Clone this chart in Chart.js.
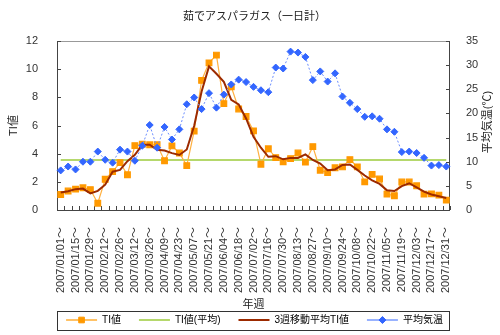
<!DOCTYPE html>
<html>
<head>
<meta charset="utf-8">
<script src="https://cdn.jsdelivr.net/npm/chart.js@4"></script>
<style>
html, body { margin: 0; background: #fff; }
</style>
</head>
<body>
<canvas id="c" width="500" height="335"></canvas>
<script>
// 週ラベル
const weeks = [
  '2007/01/01～','2007/01/08～','2007/01/15～','2007/01/22～','2007/01/29～','2007/02/05～','2007/02/12～',
  '2007/02/19～','2007/02/26～','2007/03/05～','2007/03/12～','2007/03/19～','2007/03/26～','2007/04/02～',
  '2007/04/09～','2007/04/16～','2007/04/23～','2007/04/30～','2007/05/07～','2007/05/14～','2007/05/21～',
  '2007/05/28～','2007/06/04～','2007/06/11～','2007/06/18～','2007/06/25～','2007/07/02～','2007/07/09～',
  '2007/07/16～','2007/07/23～','2007/07/30～','2007/08/06～','2007/08/13～','2007/08/20～','2007/08/27～',
  '2007/09/03～','2007/09/10～','2007/09/17～','2007/09/24～','2007/10/01～','2007/10/08～','2007/10/15～',
  '2007/10/22～','2007/10/29～','2007/11/05～','2007/11/12～','2007/11/19～','2007/11/26～','2007/12/03～',
  '2007/12/10～','2007/12/17～','2007/12/24～','2007/12/31～'
];

// TI値
const tiValues = [
  1.1, 1.35, 1.48, 1.58, 1.45, 0.48, 2.18, 2.72, 3.36, 2.5, 4.57, 4.67, 4.63, 4.63, 3.5, 4.55, 4.05, 3.15,
  5.6, 9.2, 10.45, 11.0, 7.55, 8.75, 7.17, 6.64, 5.62, 3.25, 4.35, 3.72, 3.42, 3.65, 4.05, 3.4, 4.5, 2.82,
  2.65, 3.0, 3.06, 3.58, 3.06, 2.0, 2.53, 2.2, 1.13, 1.01, 1.99, 1.99, 1.72, 1.13, 1.15, 1.06, 0.7
];

// TI値(平均)
const tiAverage = 3.55;

// 3週移動平均TI値
const tiMoving3 = [
  1.24, 1.33, 1.48, 1.52, 1.18, 1.36, 1.8, 2.72, 2.85, 3.47, 3.92, 4.63, 4.64, 4.27, 4.22, 4.04, 3.91, 4.3,
  5.98, 8.42, 10.2, 9.67, 9.1, 7.82, 7.5, 6.5, 5.2, 4.42, 3.78, 3.82, 3.6, 3.7, 3.7, 3.95, 3.55, 3.3,
  2.83, 2.88, 3.2, 3.23, 2.85, 2.45, 2.1, 1.85, 1.4, 1.35, 1.7, 1.9, 1.6, 1.3, 1.1, 0.97, 0.85
];

// 平均気温
const avgTemp = [
  8.2, 9.0, 8.4, 10.0, 10.0, 12.1, 10.4, 9.8, 12.5, 12.1, 10.2, 13.3, 17.6, 12.9, 17.2, 14.6, 16.7, 21.9,
  23.3, 20.9, 24.2, 21.2, 23.9, 26.0, 27.0, 26.5, 25.5, 24.8, 24.4, 29.5, 29.3, 32.8, 32.6, 31.7, 26.9, 28.7,
  26.6, 28.3, 23.5, 22.2, 20.9, 19.3, 19.4, 18.9, 16.7, 16.2, 12.0, 12.1, 11.8, 10.8, 9.2, 9.3, 9.0
];

const FONT = '"Liberation Sans", "Noto Sans CJK JP", sans-serif';

// 枠線・内向き目盛り・凡例枠・右軸タイトル
const frame = {
  id: 'frame',
  beforeDatasetsDraw(chart) {
    const { ctx, chartArea: a, scales } = chart;
    ctx.save();
    ctx.lineWidth = 1;
    ctx.strokeStyle = '#999';
    ctx.beginPath();
    ctx.moveTo(a.left, a.top + 0.5);
    ctx.lineTo(a.right, a.top + 0.5);
    ctx.stroke();
    ctx.strokeStyle = '#444';
    ctx.beginPath();
    ctx.moveTo(a.left + 0.5, a.top);
    ctx.lineTo(a.left + 0.5, a.bottom + 0.5);
    ctx.lineTo(a.right - 0.5, a.bottom + 0.5);
    ctx.lineTo(a.right - 0.5, a.top);
    const n = weeks.length, w = (a.right - a.left) / n;
    for (let i = 0; i <= n; i++) {
      const x = Math.round(a.left + i * w) + 0.5;
      ctx.moveTo(x, a.bottom);
      ctx.lineTo(x, a.bottom - 4);
    }
    scales.y.ticks.forEach(t => {
      const y = Math.round(scales.y.getPixelForValue(t.value)) + 0.5;
      ctx.moveTo(a.left, y); ctx.lineTo(a.left + 4, y);
    });
    scales.y1.ticks.forEach(t => {
      const y = Math.round(scales.y1.getPixelForValue(t.value)) + 0.5;
      ctx.moveTo(a.right, y); ctx.lineTo(a.right - 4, y);
    });
    ctx.stroke();
    ctx.restore();
  },
  afterDraw(chart) {
    const { ctx, chartArea: a, legend } = chart;
    ctx.save();
    const boxes = legend.legendHitBoxes;
    const cy = boxes[0].top + 5;
    ctx.strokeStyle = '#333';
    ctx.lineWidth = 1;
    ctx.strokeRect(a.left + 0.5, Math.round(cy - 9) + 0.5, a.right - a.left - 1, 19);
    legend.legendItems.forEach((item, i) => {
      const ds = chart.data.datasets[item.datasetIndex];
      if (!ds.pointRadius) return;
      ctx.fillStyle = ds.pointBackgroundColor;
      ctx.strokeStyle = ds.pointBorderColor;
      Chart.helpers.drawPoint(ctx, { pointStyle: ds.pointStyle, radius: ds.pointRadius, borderWidth: 1 },
        boxes[i].left + 15.5, cy);
    });
    // 右軸タイトル
    ctx.fillStyle = '#222';
    ctx.font = '11px ' + FONT;
    ctx.textAlign = 'center';
    ctx.textBaseline = 'middle';
    ctx.translate(488, 122);
    ctx.rotate(-Math.PI / 2);
    ctx.fillText('平均気温(℃)', 0, 0);
    ctx.restore();
  }
};

new Chart(document.getElementById('c'), {
  type: 'line',
  data: {
    labels: weeks,
    datasets: [
      { label: 'TI値', data: tiValues, yAxisID: 'y', order: 2,
        borderColor: '#FFB040', borderWidth: 1.2, pointStyle: 'rect', pointRadius: 4,
        pointBackgroundColor: '#FF9900', pointBorderColor: '#FF9900', tension: 0 },
      { label: 'TI値(平均)', data: weeks.map(() => tiAverage), yAxisID: 'y', order: 3,
        borderColor: '#9CCB3B', borderWidth: 1.5, pointRadius: 0 },
      { label: '3週移動平均TI値', data: tiMoving3, yAxisID: 'y', order: 1,
        borderColor: '#9C2A00', borderWidth: 2, pointRadius: 0 },
      { label: '平均気温', data: avgTemp, yAxisID: 'y1', order: 0,
        borderColor: '#6A8CFF', borderWidth: 1, borderDash: [2, 2], pointStyle: 'rectRot', pointRadius: 3.5,
        pointBackgroundColor: '#3366FF', pointBorderColor: '#3366FF' }
    ]
  },
  options: {
    responsive: false,
    animation: false,
    layout: { padding: { left: 9, right: 0, top: 0, bottom: 0 } },
    plugins: {
      title: { display: true, text: '茹でアスパラガス（一日計）', color: '#222',
        font: { family: FONT, size: 11, weight: 'normal' }, padding: { top: 10, bottom: 17.8 } },
      legend: { position: 'bottom',
        labels: { usePointStyle: true, pointStyle: 'line', pointStyleWidth: 31, padding: 18, color: '#000',
          font: { family: FONT, size: 10 }, sort: (a, b) => a.datasetIndex - b.datasetIndex } },
      tooltip: { enabled: false }
    },
    scales: {
      x: {
        offset: true,
        grid: { display: false }, border: { display: false },
        ticks: { autoSkip: false, minRotation: 90, maxRotation: 90, padding: 9, color: '#333',
          font: { family: FONT, size: 11 },
          callback: function (v, i) { return i % 2 === 0 ? this.getLabelForValue(v) : ''; } },
        title: { display: true, text: '年週', color: '#222', font: { family: FONT, size: 11 },
          padding: { top: 0, bottom: -14.5 } },
        afterFit: s => { s.height = 87; }
      },
      y: {
        position: 'left', min: 0, max: 12,
        grid: { display: false }, border: { display: false },
        ticks: { stepSize: 2, padding: 11, color: '#333', font: { family: FONT, size: 11 } },
        title: { display: true, text: 'TI値', color: '#222', font: { family: FONT, size: 11 },
          padding: { top: -1.6, bottom: 0 } },
        afterFit: s => { s.width = 48; }
      },
      y1: {
        position: 'right', min: 0, max: 35,
        grid: { display: false }, border: { display: false },
        ticks: { stepSize: 5, padding: 8, color: '#333', font: { family: FONT, size: 11 } },
        afterFit: s => { s.width = 50; }
      }
    }
  },
  plugins: [frame]
});
</script>
</body>
</html>
